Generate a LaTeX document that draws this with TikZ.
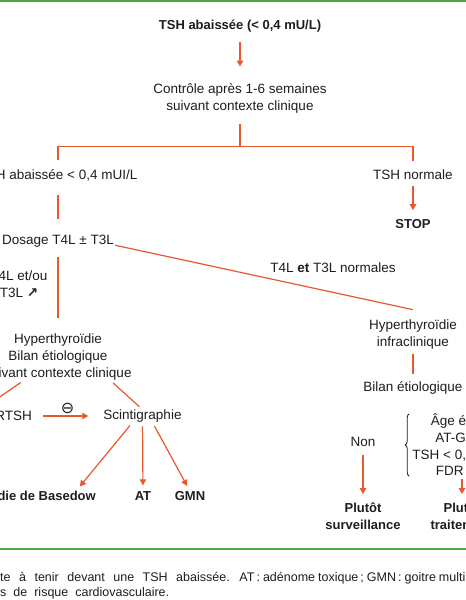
\documentclass[tikz,border=0pt]{standalone}
\usepackage{fontspec}
\setmainfont{Liberation Sans}
\newfontfamily\symfont{DejaVu Sans}
\usetikzlibrary{arrows.meta,decorations.pathreplacing}

\definecolor{flowline}{RGB}{232,88,45}
\definecolor{frameline}{RGB}{72,168,62}
\definecolor{ink}{RGB}{30,30,30}

\tikzset{
  txt/.style={align=center, text=ink, inner sep=0pt, font=\fontsize{13.5}{16.7}\selectfont},
  bold/.style={txt, font=\fontsize{13}{16.7}\selectfont\bfseries},
  legende/.style={text=ink, inner sep=0pt, font=\fontsize{12.5}{15}\selectfont},
  ln/.style={draw=flowline, line width=1.2pt, shorten <=9pt, shorten >=9pt},
  arr/.style={ln, -{Triangle[length=6pt,width=6.5pt]}},
  accolade/.style={draw=ink, line width=0.8pt, decorate, decoration={brace, amplitude=4pt}},
}

\begin{document}
\begin{tikzpicture}[x=1pt,y=-1pt]
\useasboundingbox (0,0) rectangle (466,600);
\clip (0,0) rectangle (466,600);
\fill[white] (0,0) rectangle (466,600);

% cadre
\draw[frameline, line width=2pt] (0,1) -- (466,1);
\draw[frameline, line width=2.2pt] (0,549) -- (466,549);

% haut
\node[bold] (tsh) at (240,26) {TSH abaissée (< 0,4 mU/L)};
\node[txt] (ctrl) at (240,98.5) {Contrôle après 1-6 semaines\\suivant contexte clinique};
\node[txt] (tshbas) at (58,175) {TSH abaissée < 0,4 mUI/L};
\node[txt] (tshnorm) at (413,175) {TSH normale};
\node[bold] (stop) at (413,224) {STOP};

% branche gauche
\node[txt] (dosage) at (58,241) {Dosage T4L ± T3L};
\node[txt] (hausse) at (19,284.5) {T4L et/ou\\T3L {\symfont\bfseries ↗}};
\node[txt] (hyper) at (58,357) {Hyperthyroïdie\\Bilan étiologique\\suivant contexte clinique};
\node[txt, anchor=east] (rtsh) at (32,416) {Ac anti-RTSH};
\node[txt] (scinti) at (142.5,416) {Scintigraphie};
\node[bold, anchor=east] (basedow) at (96,496) {Maladie de Basedow};
\node[bold] (at) at (143,496) {AT};
\node[bold] (gmn) at (190,496) {GMN};

% branche droite
\node[txt] (normales) at (333,268) {T4L \textbf{et} T3L normales};
\node[txt] (infra) at (413,334.5) {Hyperthyroïdie\\infraclinique};
\node[txt] (bilan) at (413,388) {Bilan étiologique};
\node[txt] (non) at (363,442) {Non};
\node[txt] (crit) at (461,445) {Âge élevé\\AT-GMN\\TSH < 0,1 mU/L\\FDR CV};
\node[bold] (surv) at (363,516.5) {Plutôt\\surveillance};
\node[bold] (trait) at (462,516.5) {Plutôt\\traitement};

% legende
\node[legende, anchor=base west] (leg1) at (0,581) {{\spaceskip=8.5pt \llap{Condui}te à tenir devant une TSH abaissée. }{\spaceskip=3pt AT\,: adénome toxique\,; GMN\,: goitre multinodulaire\,;}};
\node[legende, anchor=base west] (leg2) at (0,596) {{\spaceskip=7pt \llap{facteur}s de risque cardiovasculaire.}};

% liens
\draw[arr, shorten <=10pt, shorten >=17pt] (tsh) -- (ctrl);
\draw[ln, shorten <=11pt] (ctrl.south) -- ++(0,33) -| (tshbas.north);
\draw[ln, shorten <=0pt] (ctrl.south) ++(0,33) -| (tshnorm.north);
\draw[ln, shorten <=14pt, shorten >=16pt] (tshbas) -- (dosage);
\draw[arr, shorten <=6pt, shorten >=9pt] (tshnorm) -- (stop);
\draw[ln, shorten <=10pt, shorten >=16pt] (dosage) -- (hyper);
\draw[ln, shorten <=1pt, shorten >=0pt] ([yshift=-4]dosage.east) -- ([yshift=10]infra.north);
\draw[ln, shorten <=4pt, shorten >=4pt] ([xshift=-34]hyper.south) -- ([xshift=-11]rtsh.north);
\draw[ln, shorten <=4pt, shorten >=4pt] ([xshift=52]hyper.south) -- (scinti.north);
\draw[arr, shorten <=11pt, shorten >=15pt] (rtsh) -- node[above=2pt, txt, font=\fontsize{16}{16}\symfont] (moins) {⊖} (scinti);
\draw[arr, shorten <=4pt, shorten >=6pt] ([xshift=-10]scinti.south) -- ([xshift=-20]basedow.north east);
\draw[arr, shorten <=4pt, shorten >=6pt] (scinti) -- (at);
\draw[arr, shorten <=4pt, shorten >=6pt] ([xshift=10]scinti.south) -- (gmn.north);
\draw[ln, shorten <=5pt, shorten >=7pt] (infra) -- (bilan);
\draw[arr, shorten <=8pt, shorten >=9pt] (non) -- (surv);
\draw[arr, shorten <=3pt, shorten >=9pt] (crit.south -| trait.north) -- (trait.north);
\draw[accolade] ([xshift=-3]crit.south west) -- ([xshift=-3]crit.north west);
\end{tikzpicture}
\end{document}
